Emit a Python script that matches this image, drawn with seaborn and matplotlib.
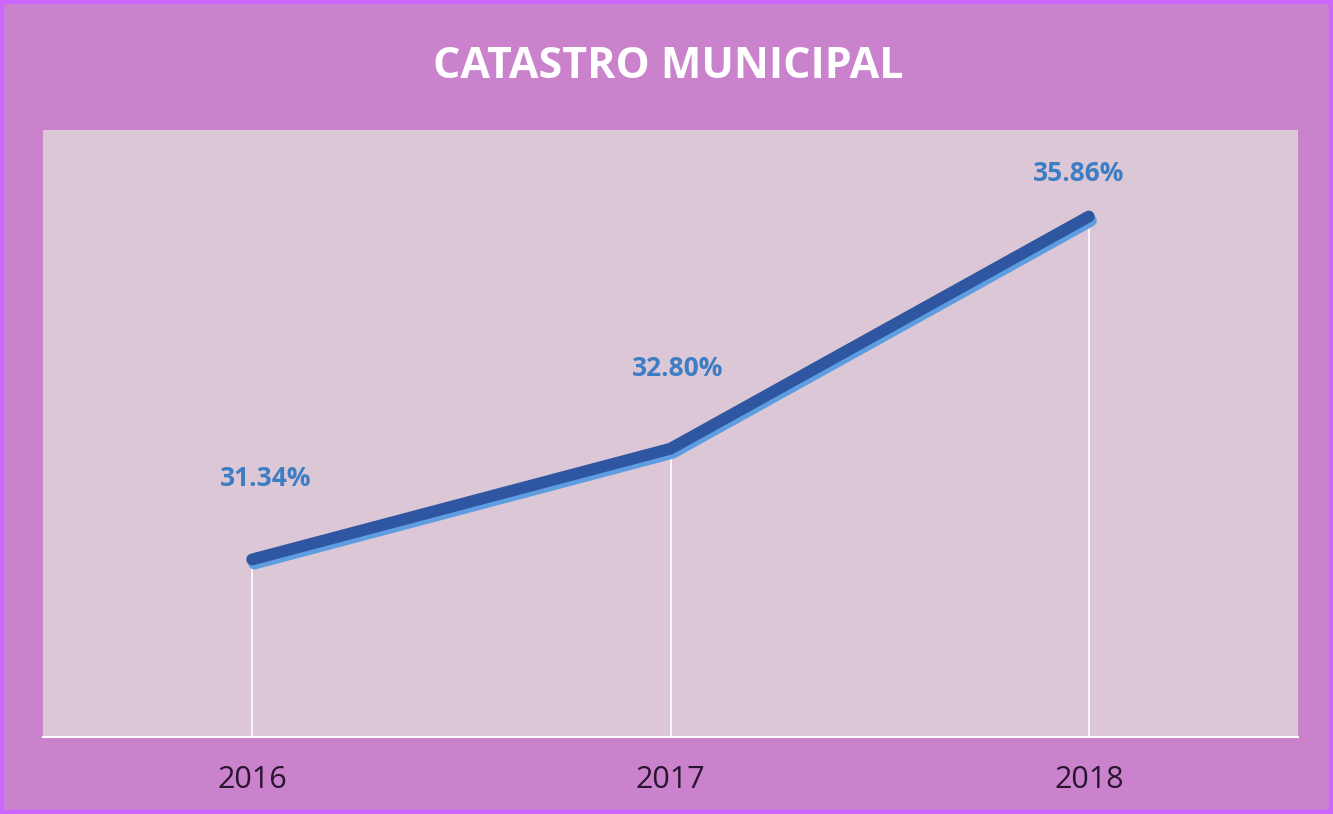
import matplotlib
matplotlib.use("Agg")
import matplotlib.pyplot as plt
import matplotlib.patheffects as pe
from matplotlib.patches import Rectangle
import seaborn as sns
import pandas as pd

years = ["2016", "2017", "2018"]
values = [31.34, 32.80, 35.86]
labels = ["31.34%", "32.80%", "35.86%"]
title = "CATASTRO MUNICIPAL"

sns.set_theme(style="white")
plt.rcParams['font.family'] = ['Open Sans', 'DejaVu Sans']

df = pd.DataFrame({"year": years, "value": values, "pos": range(len(years))})

fig = plt.figure(figsize=(13.33, 8.14), dpi=100)
fig.patch.set_facecolor('#CA82CC')
ax = fig.add_axes([43/1333, 1-737/814, (1298-43)/1333, (737-130)/814])
ax.set_facecolor('#DBC7D6')

# drop lines
ax.vlines(df["pos"], 29, df["value"], color='white', linewidth=1.2, zorder=2)

sns.lineplot(data=df, x="pos", y="value", ax=ax, color='#2F56A0', linewidth=8.5,
             solid_capstyle='round', solid_joinstyle='round', zorder=3,
             path_effects=[pe.SimpleLineShadow(offset=(1.5, -3), shadow_color='#5E9EE0', alpha=1.0),
                           pe.Normal()])

offsets = [(10, 58), (5, 58), (-7, 31)]
for p, v, lab, off in zip(df["pos"], values, labels, offsets):
    ax.annotate(lab, (p, v), xytext=off, textcoords='offset points', ha='center', va='center',
                fontsize=19, fontweight='bold', color='#3C7DC4', zorder=4)

ax.set_xlim(-0.5, 2.5)
ax.set_ylim(29, 37)
ax.set_xticks(range(len(years)))
ax.set_xticklabels(years, fontsize=22, color='#2A1530')
ax.tick_params(axis='x', length=0, pad=20)
ax.set_yticks([])
ax.set_xlabel("")
ax.set_ylabel("")
for s in ["top", "left", "right"]:
    ax.spines[s].set_visible(False)
ax.spines["bottom"].set_color('white')
ax.spines["bottom"].set_linewidth(1.5)

fig.text(668/1333, 1-66/814, title, ha='center', va='center', fontsize=31,
         fontweight='bold', color='white')

fig.patches.append(Rectangle((0, 0), 1, 1, transform=fig.transFigure, fill=False,
                             edgecolor='#CC66FF', linewidth=6, zorder=10))

fig.savefig("out.png", dpi=100, facecolor=fig.get_facecolor())
